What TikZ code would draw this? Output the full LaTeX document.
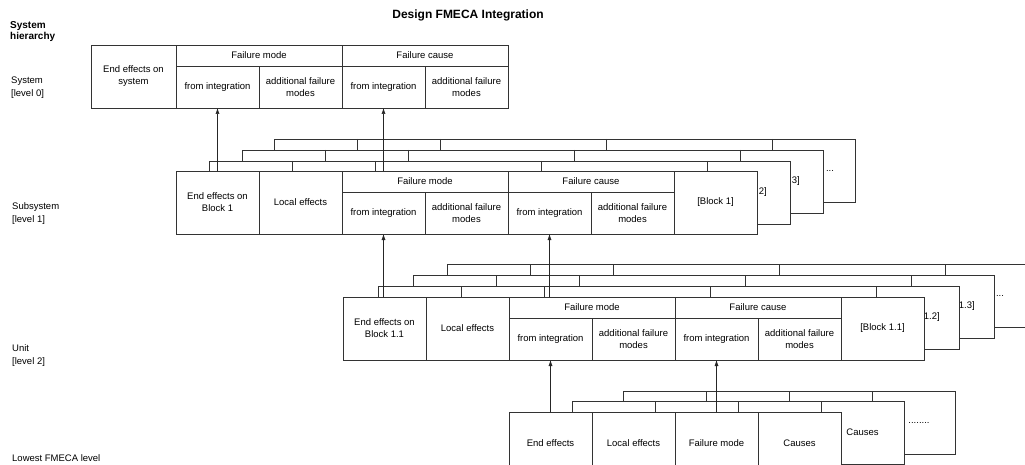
\documentclass[tikz,border=0pt]{standalone}
\usepackage{fontspec}
\setmainfont{Liberation Sans}
\usetikzlibrary{arrows.meta}

% front sheet of one level (subsystem / unit)
\newcommand{\fmecarow}[4]{%
  \begin{scope}[shift={#2}]
    \node[cel] (#1-ee) at (41.5,31.5) {#3};
    \node[cel] (#1-le) at (124.5,31.5) {Local effects};
    \node[hcel] (#1-fm) at (249,10.5) {Failure mode};
    \node[lcel] (#1-fmi) at (207.5,42) {from integration};
    \node[lcel] (#1-fma) at (290.5,42) {additional failure\\modes};
    \node[hcel] (#1-fc) at (415,10.5) {Failure cause};
    \node[lcel] (#1-fci) at (373.5,42) {from integration};
    \node[lcel] (#1-fca) at (456.5,42) {additional failure\\modes};
    \node[cel] (#1-blk) at (539.5,31.5) {#4};
  \end{scope}}

% sheet of a sibling block, lying behind
\newcommand{\backrow}[4]{%
  \begin{scope}[shift={#1}]
    \draw[bak] (0,0) rectangle (581,63);
    \draw[bakl] (83,0) -- (83,63) (166,0) -- (166,63) (332,0) -- (332,63) (498,0) -- (498,63)
      (166,21) -- (498,21) (249,21) -- (249,63) (415,21) -- (415,63);
    \node[txt] (#2) at (#4,31.5) {#3};
  \end{scope}}

% lowest level sheet, lying behind
\newcommand{\backlow}[4]{%
  \begin{scope}[shift={#1}]
    \draw[bak] (0,0) rectangle (332,63);
    \draw[bakl] (83,0) -- (83,63) (166,0) -- (166,63) (249,0) -- (249,63);
    \node[txt] (#2) at (#4,31.5) {#3};
  \end{scope}}

\begin{document}
\begin{tikzpicture}[x=1pt, y=-1pt,
    cel/.style={draw=black!80, fill=white, line width=0.5pt, minimum width=83pt, minimum height=63pt,
      inner sep=1pt, outer sep=0pt, align=center, font=\fontsize{9.5}{12}\selectfont},
    hcel/.style={cel, minimum width=166pt, minimum height=21pt},
    lcel/.style={cel, minimum height=42pt},
    bak/.style={draw=black!80, fill=white, line width=0.5pt},
    bakl/.style={draw=black!80, line width=0.5pt},
    txt/.style={inner sep=0pt, font=\fontsize{9.5}{12}\selectfont},
    lbl/.style={align=left, anchor=west, inner sep=0pt, font=\fontsize{9.5}{13}\selectfont},
    arr/.style={-{Latex[length=6pt, width=4pt]}, draw=black!85, line width=0.5pt}
]
\useasboundingbox (0,0) rectangle (1025,465);
\clip (0,0) rectangle (1025,465);

\node[font=\bfseries\fontsize{12}{14}\selectfont] (title) at (468,15) {Design FMECA Integration};
\node[lbl, font=\bfseries\fontsize{10}{11}\selectfont] (hier) at (10,32) {System\\hierarchy};
\node[lbl] (lv0) at (11,87.5) {System\\{}[level 0]};
\node[lbl] (lv1) at (12,213.5) {Subsystem\\{}[level 1]};
\node[lbl] (lv2) at (12,355.5) {Unit\\{}[level 2]};
\node[lbl] (lvlow) at (12,458) {Lowest FMECA level};

% level 0
\begin{scope}[shift={(176,45)}]
  \node[cel, minimum width=85pt] (sys-ee) at (-42.5,31.5) {End effects on\\system};
  \node[hcel] (sys-fm) at (83,10.5) {Failure mode};
  \node[lcel] (sys-fmi) at (41.5,42) {from integration};
  \node[lcel] (sys-fma) at (124.5,42) {additional failure\\modes};
  \node[hcel] (sys-fc) at (249,10.5) {Failure cause};
  \node[lcel] (sys-fci) at (207.5,42) {from integration};
  \node[lcel] (sys-fca) at (290.5,42) {additional failure\\modes};
\end{scope}

% level 1
\backrow{(274,139)}{sub-b4}{...}{556}
\backrow{(242,150)}{sub-b3}{[Block 3]}{539.5}
\backrow{(209,161)}{sub-b2}{[Block 2]}{539.5}
\fmecarow{sub}{(176,171)}{End effects on\\Block 1}{[Block 1]}

% level 2
\backrow{(447,264)}{unit-b4}{...}{553}
\backrow{(413,275)}{unit-b3}{[Block 1.3]}{539.5}
\backrow{(378,286)}{unit-b2}{[Block 1.2]}{539.5}
\fmecarow{unit}{(343,297)}{End effects on\\Block 1.1}{[Block 1.1]}

% lowest level
\backlow{(623,391)}{low-b3}{........}{296}
\backlow{(572,401)}{low-b2}{Causes}{290.5}
\begin{scope}[shift={(509,412)}]
  \node[cel] (low-ee) at (41.5,31.5) {End effects};
  \node[cel] (low-le) at (124.5,31.5) {Local effects};
  \node[cel] (low-fm) at (207.5,31.5) {Failure mode};
  \node[cel] (low-ca) at (290.5,31.5) {Causes};
\end{scope}

\draw[arr] (sub-ee.north) -- (sys-fmi.south);
\draw[arr] (sub-fm.north -| sys-fci.south) -- (sys-fci.south);
\draw[arr] (unit-ee.north -| sub-fmi.south) -- (sub-fmi.south);
\draw[arr] (unit-fm.north -| sub-fci.south) -- (sub-fci.south);
\draw[arr] (low-ee.north -| unit-fmi.south) -- (unit-fmi.south);
\draw[arr] (low-fm.north -| unit-fci.south) -- (unit-fci.south);
\end{tikzpicture}
\end{document}
